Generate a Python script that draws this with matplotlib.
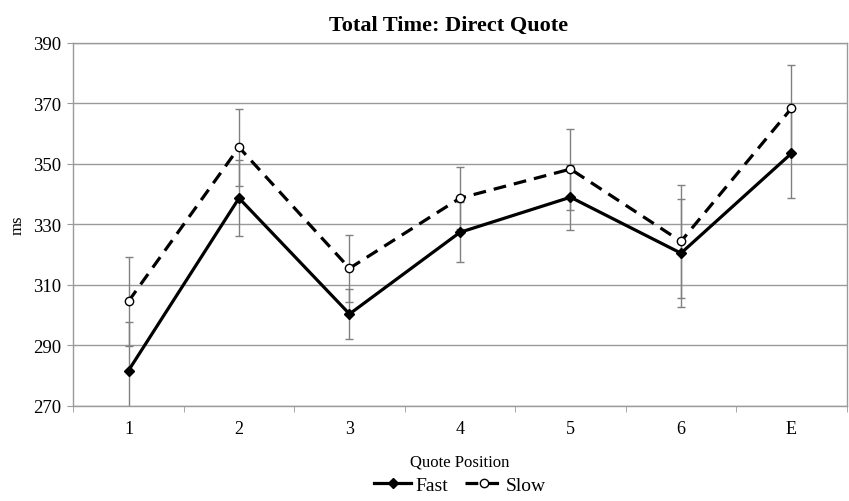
import numpy as np
import matplotlib
matplotlib.use("Agg")
from matplotlib import pyplot as plt

plt.rcParams.update({
    "font.family": ["Liberation Serif", "DejaVu Serif"],
    "font.size": 12,
})

positions = ["1", "2", "3", "4", "5", "6", "E"]
fast = [281.6, 338.6, 300.3, 327.3, 338.9, 320.4, 353.4]
fast_err = [16.2, 12.5, 8.3, 9.9, 10.8, 17.9, 14.7]
slow = [304.5, 355.4, 315.4, 338.6, 348.2, 324.3, 368.3]
slow_err = [14.7, 12.7, 11.0, 10.2, 13.4, 18.7, 14.3]
yticks = [270, 290, 310, 330, 350, 370, 390]

x = np.arange(1, len(positions) + 1)
grid_col = "#9a9a9a"

fig = plt.figure(figsize=(8.49, 5.02), dpi=100)
ax = fig.add_axes([0.0863, 0.190, 0.911, 0.723])

# error bars first, grey and thin
ax.errorbar(x, fast, yerr=fast_err, fmt="none", ecolor="#808080",
            elinewidth=1, capsize=3, capthick=1, zorder=2)
ax.errorbar(x, slow, yerr=slow_err, fmt="none", ecolor="#808080",
            elinewidth=1, capsize=3, capthick=1, zorder=2)

ax.plot(x, fast, color="black", linewidth=2.3, marker="D", markersize=5.5,
        markerfacecolor="black", markeredgecolor="black", label="Fast", zorder=4)
ax.plot(x, slow, color="black", linewidth=2.3, linestyle=(0, (4, 2.5)),
        marker="o", markersize=6, markerfacecolor="white",
        markeredgecolor="black", markeredgewidth=1, label="Slow", zorder=3)

ax.set_xlim(0.5, len(positions) + 0.5)
ax.set_ylim(270, 390)
ax.set_yticks(yticks)
ax.set_xticks(x)
ax.set_xticklabels(positions)
ax.set_xticks(np.arange(0.5, len(positions) + 1), minor=True)
ax.tick_params(axis="x", which="major", length=0, pad=10, labelsize=13)
ax.tick_params(axis="x", which="minor", length=4, color=grid_col, direction="out")
ax.tick_params(axis="y", length=4, color=grid_col, labelsize=13.5, pad=5)

ax.yaxis.grid(True, color=grid_col, linewidth=1)
ax.set_axisbelow(True)
for side in ["left", "right", "top", "bottom"]:
    ax.spines[side].set_color(grid_col)
    ax.spines[side].set_linewidth(1)

ax.set_title("Total Time: Direct Quote", fontsize=16, fontweight="bold",
             x=0.485, pad=9)
ax.set_xlabel("Quote Position", fontsize=12, labelpad=12)
ax.set_ylabel("ms", fontsize=12)
ax.yaxis.set_label_coords(-0.062, 0.5)

fig.legend(loc="center", bbox_to_anchor=(0.542, 0.032), ncol=2, frameon=False,
           fontsize=14, handlelength=1.9, handletextpad=0.2, columnspacing=0.9,
           borderaxespad=0)

fig.savefig("out.png", dpi=100)
